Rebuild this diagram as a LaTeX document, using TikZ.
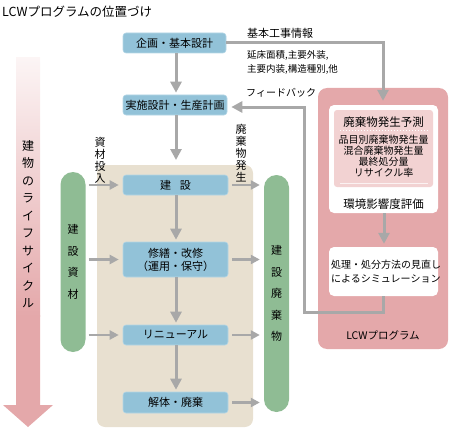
\documentclass[tikz,border=0pt]{standalone}
\usepackage{fontspec}
\setmainfont{Noto Sans CJK JP}
\usetikzlibrary{arrows.meta}
\definecolor{cblue}{HTML}{92C2D8}
\definecolor{cblueline}{HTML}{B4D6E6}
\definecolor{cgreen}{HTML}{8FBC94}
\definecolor{cpink}{HTML}{E4A8AA}
\definecolor{cpinklight}{HTML}{F2D2D2}
\definecolor{cbeige}{HTML}{E8E0D0}
\definecolor{cgray}{HTML}{A8A8A8}
\begin{document}
\begin{tikzpicture}[x=1pt,y=-1pt,
  bluebox/.style={fill=cblue, draw=cblueline, line width=0.6pt, rounded corners=3pt,
    minimum width=105pt, minimum height=20pt, inner sep=0pt,
    font=\fontsize{11}{13}\selectfont, align=center},
  pill/.style={fill=cgreen, rounded corners=12.5pt, minimum width=25pt, inner sep=0pt,
    font=\fontsize{11}{21.5}\selectfont, align=center},
  garrow/.style={draw=cgray, line width=3pt, -{Triangle[length=11pt,width=11pt]}},
  harrow/.style={draw=cgray, line width=2.5pt, -{Triangle[length=9pt,width=9pt]}},
  gline/.style={draw=cgray, line width=3pt},
  vlabel/.style={inner sep=0pt, align=center, font=\fontsize{11}{12}\selectfont},
  whitebox/.style={fill=white, rounded corners=5pt, inner sep=0pt, minimum width=109pt}
]
\useasboundingbox (0,0) rectangle (450,428);

% title
\node[anchor=west, inner sep=0pt, font=\fontsize{12.5}{14}\selectfont] (title) at (2,12) {LCWプログラムの位置づけ};

% life-cycle arrow
\shade[top color=cpink!12, bottom color=cpink] (16,58) rectangle (40,316);
\fill[cpink] (16,315) -- (40,315) -- (40,405) -- (53,405) -- (28,427) -- (3,405) -- (16,405) -- cycle;
\node[inner sep=0pt, align=center, font=\fontsize{12}{17.5}\selectfont] (life) at (28,224)
  {建\\物\\の\\ラ\\イ\\フ\\サ\\イ\\ク\\ル};

% beige area
\node[fill=cbeige, rounded corners=8pt, minimum width=156pt, minimum height=262pt, inner sep=0pt] (area) at (175,296) {};

% blue boxes
\node[bluebox, minimum width=103pt] (b1) at (174.5,43) {企画・基本設計};
\node[bluebox, minimum width=104pt] (b2) at (175,105) {実施設計・生産計画};
\node[bluebox] (k1) at (175.5,185) {建\hspace{9pt}設};
\node[bluebox, minimum height=35pt] (k2) at (175.5,259.5) {修繕・改修\\（運用・保守）};
\node[bluebox] (k3) at (175.5,335) {リニューアル};
\node[bluebox, minimum height=21pt] (k4) at (175.5,402.5) {解体・廃棄};

% green pills
\node[pill, minimum height=180pt] (gl) at (73,262) {建\\設\\資\\材};
\node[pill, minimum height=237pt] (gr) at (276.5,293.5) {建\\設\\廃\\棄\\物};

% vertical labels
\node[vlabel] (inlab) at (100,160) {資\\材\\投\\入};
\node[vlabel] (outlab) at (241,153) {廃\\棄\\物\\発\\生};

% main flow arrows
\coordinate (b2end) at (176,160);
\draw[garrow, shorten >=2pt] (b1.south -| 176,0) -- (b2.north -| 176,0);
\draw[garrow] (b2.south -| 176,0) -- (b2end);
\draw[garrow, shorten >=2pt] (k1.south -| 176,0) -- (k2.north -| 176,0);
\draw[garrow, shorten >=2pt] (k2.south -| 176,0) -- (k3.north -| 176,0);
\draw[garrow, shorten >=2pt] (k3.south -| 176,0) -- (k4.north -| 176,0);

% material input arrows
\foreach \k in {k1,k2,k3}
  \draw[harrow, shorten <=3pt, shorten >=4pt] (gl.east |- \k) -- (\k.west);
% waste output arrows
\foreach \k in {k1,k2,k3,k4}
  \draw[harrow, shorten <=4pt, shorten >=4pt] (\k.east) -- (gr.west |- \k);

% LCW program box
\node[fill=cpink, rounded corners=9pt, minimum width=130pt, minimum height=261pt, inner sep=0pt] (lcw) at (383,218.5) {};
\node[whitebox, minimum height=108pt] (w1) at (383.5,159) {};
\node[fill=cpinklight, rounded corners=3pt, minimum width=99pt, minimum height=77pt, inner sep=0pt] (pred) at (383.5,148.5) {};
\node[inner sep=0pt, font=\fontsize{11.5}{13}\selectfont] (predt) at (383.5,122) {廃棄物発生予測};
\draw[white, line width=1pt, dotted] (340,130) -- (428,130);
\node[inner sep=0pt, align=center, font=\fontsize{10}{11}\selectfont] (predl) at (383.5,156.5)
  {品目別廃棄物発生量\\混合廃棄物発生量\\最終処分量\\リサイクル率};
\draw[white!85!cpink, line width=1pt] (340,183) -- (428,183);
\node[inner sep=0pt, font=\fontsize{11.5}{13}\selectfont] (env) at (383.5,204) {環境影響度評価};
\node[whitebox, minimum height=49pt] (w2) at (383.5,271.5) {};
\node[inner sep=0pt, anchor=west, align=left, font=\fontsize{10}{14}\selectfont] (sim) at (331,272)
  {処理・処分方法の見直し\\によるシミュレーション};
\node[inner sep=0pt, font=\fontsize{10.5}{12}\selectfont] (lcwt) at (383,335) {LCWプログラム};
\draw[garrow, shorten >=3pt] (w1.south -| 384,0) -- (w2.north -| 384,0);

% basic info line
\node[anchor=west, inner sep=0pt, font=\fontsize{11}{13}\selectfont] (infot) at (247,33) {基本工事情報};
\node[anchor=north west, inner sep=0pt, align=left, font=\fontsize{9.5}{14}\selectfont] (infod) at (247,50)
  {延床面積,主要外装,\\主要内装,構造種別,他};
\coordinate (ic) at (383,43);
\draw[garrow, shorten >=4pt] (b1.east) -- (ic) -- (w1.north -| ic);

% feedback line
\node[anchor=west, inner sep=0pt, font=\fontsize{10}{12}\selectfont] (fbt) at (246,93) {フィードバック};
\coordinate (f1) at (383,312);
\coordinate (f2) at (304,312);
\coordinate (f3) at (304,107);
\draw[garrow, shorten >=4pt] (w2.south -| f1) -- (f1) -- (f2) -- (f3) -- (b2.east |- f3);
\end{tikzpicture}
\end{document}
